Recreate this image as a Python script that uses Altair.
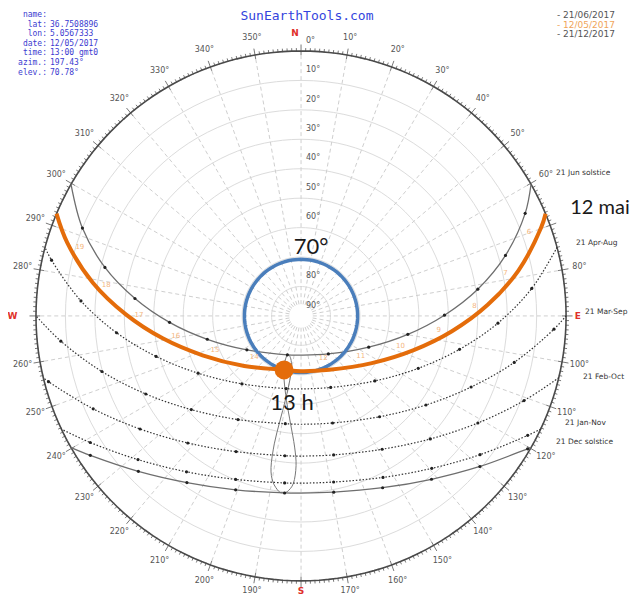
import altair as alt
import pandas as pd

# ---------------- data ----------------
# sun paths: azimuth (deg, from north, clockwise), elevation (deg), local hour
JUN_AZ = [60.2, 65.4, 73.5, 81.4, 89.7, 99.8, 114.8, 144.3, 180.0, 199.3, 237.9, 256.0, 267.2, 276.0, 283.9, 291.9, 299.8]
JUN_EL = [0.0, 6.3, 17.6, 29.3, 41.3, 53.2, 64.7, 74.1, 76.7, 76.0, 68.3, 57.2, 45.3, 33.3, 21.4, 10.0, 0.0]
JUN_HR = ["", "6", "7", "8", "9", "10", "11", "12", "", "13", "14", "15", "16", "17", "18", "19", ""]

MAY_AZ = [67.3, 69.7, 78.2, 86.6, 95.8, 107.1, 123.7, 152.2, 180.0, 197.4, 228.6, 248.2, 260.8, 270.5, 279.0, 287.4, 292.7]
MAY_EL = [0.0, 3.0, 14.6, 26.5, 38.5, 50.2, 61.1, 69.3, 71.2, 70.8, 64.3, 54.0, 42.4, 30.5, 18.5, 6.8, 0.0]
MAY_HR = ["", "6", "7", "8", "9", "10", "11", "12", "", "13", "14", "15", "16", "17", "18", "19", ""]

APR_AZ = [75.0, 83.2, 92.1, 101.9, 114.1, 131.4, 157.5, 180.0, 191.6, 221.1, 240.9, 254.4, 264.8, 273.9, 282.6, 285.0]
APR_EL = [0.0, 11.1, 23.1, 35.0, 46.4, 56.6, 63.7, 65.2, 64.8, 59.4, 50.0, 38.9, 27.1, 15.1, 3.2, 0.0]
APR_HR = ["", "7", "8", "9", "10", "11", "12", "", "13", "14", "15", "16", "17", "18", "19", ""]

MAR_AZ = [90.0, 93.0, 102.3, 112.7, 125.5, 142.1, 163.6, 180.0, 188.3, 211.3, 229.5, 243.3, 254.4, 264.0, 270.0]
MAR_EL = [0.0, 4.0, 15.9, 27.4, 37.9, 46.6, 52.1, 53.2, 53.0, 48.8, 41.0, 31.0, 19.8, 8.0, 0.0]
MAR_HR = ["", "7", "8", "9", "10", "11", "12", "", "13", "14", "15", "16", "17", "18", ""]

FEB_AZ = [103.5, 110.8, 121.2, 133.6, 148.7, 166.8, 180.0, 186.6, 205.6, 221.7, 234.9, 245.9, 255.4, 256.5]
FEB_EL = [0.0, 9.0, 19.8, 29.4, 37.0, 41.5, 42.4, 42.2, 38.9, 32.2, 23.2, 12.7, 1.4, 0.0]
FEB_HR = ["", "8", "9", "10", "11", "12", "", "13", "14", "15", "16", "17", "18", ""]

JAN_AZ = [115.3, 117.8, 127.8, 139.4, 153.1, 168.9, 180.0, 185.6, 201.8, 216.3, 228.6, 239.0, 244.7]
JAN_EL = [0.0, 3.0, 13.1, 21.8, 28.5, 32.5, 33.2, 33.0, 30.2, 24.3, 16.2, 6.5, 0.0]
JAN_HR = ["", "8", "9", "10", "11", "12", "", "13", "14", "15", "16", "17", ""]

DEC_AZ = [119.8, 120.4, 130.1, 141.4, 154.6, 169.5, 180.0, 185.3, 200.6, 214.4, 226.3, 236.5, 240.2]
DEC_EL = [0.0, 0.8, 10.6, 19.0, 25.4, 29.1, 29.8, 29.6, 26.9, 21.4, 13.6, 4.2, 0.0]
DEC_HR = ["", "8", "9", "10", "11", "12", "", "13", "14", "15", "16", "17", ""]

# analemma of 13 h through the year
ANA_AZ = [184.5, 182.6, 181.9, 182.8, 185.5, 189.8, 194.9, 197.8, 199.8, 197.9,
          193.4, 190.7, 189.9, 190.5, 191.4, 191.8, 191.2, 189.6, 187.2, 185.9]
ANA_EL = [30.1, 33.1, 39.1, 45.4, 53.1, 60.9, 67.6, 71.1, 74.5, 76.1,
          75.0, 72.5, 68.3, 61.3, 53.2, 45.6, 37.5, 32.8, 29.9, 29.6]

POINT_AZ = [197.43]
POINT_EL = [70.78]

AZ_LABELS = [10, 20, 30, 40, 50, 60, 80, 100, 110, 120, 130, 140, 150, 160, 170,
             190, 200, 210, 220, 230, 240, 250, 260, 280, 290, 300, 310, 320, 330, 340, 350]
CARDINALS = ["N", "E", "S", "W"]
CARDINAL_AZ = [0, 90, 180, 270]
ELEV_LABELS = [0, 10, 20, 30, 40, 50, 60, 80, 90]
INFO_KEYS = ["name:", "lat:", "lon:", "date:", "time:", "azim.:", "elev.:"]
INFO_VALUES = ["", "36.7508896", "5.0567333", "12/05/2017", "13:00 gmt0", "197.43°", "70.78°"]
LEGEND_DATES = ["21/06/2017", "12/05/2017", "21/12/2017"]
CURVE_LABELS = ["21 Jun  solstice", "21 Apr-Aug", "21 Mar-Sep", "21 Feb-Oct", "21 Jan-Nov", "21 Dec  solstice"]

# ---------------- tables ----------------
def frame(name, az, el, hr):
    return pd.DataFrame({"curve": name, "az": az, "el": el, "hr": hr, "i": list(range(len(az)))})

paths = pd.concat([
    frame("jun", JUN_AZ, JUN_EL, JUN_HR),
    frame("apr", APR_AZ, APR_EL, APR_HR),
    frame("mar", MAR_AZ, MAR_EL, MAR_HR),
    frame("feb", FEB_AZ, FEB_EL, FEB_HR),
    frame("jan", JAN_AZ, JAN_EL, JAN_HR),
    frame("dec", DEC_AZ, DEC_EL, DEC_HR),
], ignore_index=True)
may = frame("may", MAY_AZ, MAY_EL, MAY_HR)
ana = pd.DataFrame({"az": ANA_AZ, "el": ANA_EL, "i": list(range(len(ANA_AZ)))})

xs = alt.Scale(domain=[-99.5, 111.7], nice=False, zero=False)
ys = alt.Scale(domain=[-94.8, 104.6], nice=False, zero=False)
X = alt.X("x:Q", scale=xs, axis=None)
Y = alt.Y("y:Q", scale=ys, axis=None)
POLAR = {"x": "(90 - datum.el) * sin(datum.az * PI / 180)",
         "y": "(90 - datum.el) * cos(datum.az * PI / 180)"}


def pc(df):
    return alt.Chart(df).transform_calculate(**POLAR)


# grid rings
ring_df = pd.DataFrame([{"el": e, "az": a, "i": k}
                        for e in range(10, 90, 10) for k, a in enumerate(range(0, 361, 3))])
rings = pc(ring_df).mark_line(color="#dcdcdc", strokeWidth=1).encode(X, Y, detail="el:N", order="i:Q")

rad_df = pd.DataFrame({"az": list(range(0, 360, 10))})
radials = alt.Chart(rad_df).transform_calculate(
    x="4 * sin(datum.az * PI / 180)", y="4 * cos(datum.az * PI / 180)",
    x2="90 * sin(datum.az * PI / 180)", y2="90 * cos(datum.az * PI / 180)"
).mark_rule(color="#cfcfcf", strokeDash=[4, 3], strokeWidth=1).encode(X, Y, x2="x2:Q", y2="y2:Q")

hor_df = pd.DataFrame({"az": list(range(0, 361, 2))})
hor_df["el"] = 0
hor_df["i"] = range(len(hor_df))
horizon = pc(hor_df).mark_line(color="#4a4a4a", strokeWidth=1.6).encode(X, Y, order="i:Q")

tick_df = pd.DataFrame({"az": list(range(0, 360))})
ticks = alt.Chart(tick_df).transform_calculate(
    rin="datum.az % 10 == 0 ? 88.6 : 89.8",
    rout="datum.az % 10 == 0 ? 92.2 : 91.0"
).transform_calculate(
    x="datum.rin * sin(datum.az * PI / 180)", y="datum.rin * cos(datum.az * PI / 180)",
    x2="datum.rout * sin(datum.az * PI / 180)", y2="datum.rout * cos(datum.az * PI / 180)"
).mark_rule(color="#555555", strokeWidth=0.8).encode(X, Y, x2="x2:Q", y2="y2:Q")

az_labels = alt.Chart(pd.DataFrame({"az": AZ_LABELS})).transform_calculate(
    x="96 * sin(datum.az * PI / 180)",
    y="96 * cos(datum.az * PI / 180) + (cos(datum.az * PI / 180) < -0.95 ? 1.1 : 0)",
    label="datum.az + '°'"
).mark_text(font="DejaVu Sans", fontSize=8, color="#555555").encode(X, Y, text="label:N")

card_layers = []
for letter, az, r, dx in zip(CARDINALS, CARDINAL_AZ, [96, 94, 93.6, 98], [-6, 0, 0, 0]):
    card_layers.append(
        alt.Chart(pd.DataFrame({"az": [az], "t": [letter]})).transform_calculate(
            x=f"{r} * sin(datum.az * PI / 180)", y=f"{r} * cos(datum.az * PI / 180)"
        ).mark_text(font="DejaVu Sans", fontSize=9, fontWeight="bold", color="#e0302a", dx=dx)
        .encode(X, Y, text="t:N"))

el_labels = alt.Chart(pd.DataFrame({"el": ELEV_LABELS})).transform_calculate(
    x="0", y="93.5 - datum.el", label="datum.el + '°'"
).mark_text(font="DejaVu Sans", fontSize=8, color="#555555", align="left", dx=5).encode(X, Y, text="label:N")

# sun paths
analemma = pc(ana).mark_line(color="#777777", strokeWidth=1, interpolate="cardinal-closed").encode(X, Y, order="i:Q")

solid = pc(paths[paths.curve.isin(["jun", "dec"])]).mark_line(
    color="#6e6e6e", strokeWidth=1.3, interpolate="catmull-rom").encode(X, Y, detail="curve:N", order="i:Q")
dotted = pc(paths[paths.curve.isin(["apr", "mar", "feb", "jan"])]).mark_line(
    color="#333333", strokeWidth=1.2, strokeDash=[1.5, 1.8], interpolate="catmull-rom").encode(
    X, Y, detail="curve:N", order="i:Q")
dots = pc(paths[paths.hr != ""]).mark_point(filled=True, color="#222222", size=10, opacity=1).encode(X, Y)

blue = pc(pd.DataFrame({"az": list(range(0, 361, 3)), "el": POINT_EL[0], "i": list(range(121))})).mark_line(
    color="#4a7ebb", strokeWidth=3.5).encode(X, Y, order="i:Q")

may_line = pc(may).mark_line(color="#e46c0a", strokeWidth=4, interpolate="catmull-rom").encode(X, Y, order="i:Q")
may_hours = alt.Chart(may[(may.hr != "") & (may.hr != "13")]).transform_calculate(
    x="(85.5 - datum.el) * sin(datum.az * PI / 180)", y="(85.5 - datum.el) * cos(datum.az * PI / 180)"
).mark_text(font="DejaVu Sans", fontSize=7, color="#f4b680").encode(X, Y, text="hr:N")
sun_pt = pc(pd.DataFrame({"az": POINT_AZ, "el": POINT_EL})).mark_point(
    filled=True, color="#e46c0a", size=360, opacity=1).encode(X, Y)

# annotations (pixel positions inside the view)
one = pd.DataFrame({"d": [0]})


def txt(text, x, y, **kw):
    return alt.Chart(one).mark_text(**kw).encode(x=alt.value(x), y=alt.value(y), text=alt.value(text))


ann = [
    txt("SunEarthTools.com", 299, 8, font="DejaVu Sans Mono", fontSize=13, color="#3344dd"),
    txt("\n".join(INFO_KEYS), 39, 3, font="DejaVu Sans Mono", fontSize=8, color="#3b3bd0",
        align="right", baseline="top", lineBreak="\n", lineHeight=9.6),
    txt("\n".join(INFO_VALUES), 42, 3, font="DejaVu Sans Mono", fontSize=8, color="#3b3bd0",
        align="left", baseline="top", lineBreak="\n", lineHeight=9.6),
]
for k, (d, col) in enumerate(zip(LEGEND_DATES, ["#555555", "#f0a55a", "#555555"])):
    ann.append(txt("- " + d, 549, 7 + 9.5 * k, font="DejaVu Sans", fontSize=9, color=col, align="left"))
for label, (x, y) in zip(CURVE_LABELS, [(548, 165), (568, 235), (577, 304), (575, 369), (557, 415), (548, 434)]):
    ann.append(txt(label, x, y, font="DejaVu Sans", fontSize=7.5, color="#333333", align="left"))
ann += [
    txt("12 mai", 592, 200, font="Lato", fontSize=20, color="#1a1a1a"),
    txt("70°", 303, 239, font="Lato", fontSize=22, color="#1a1a1a"),
    txt("13 h", 284, 395, font="Lato", fontSize=22, color="#1a1a1a"),
]

layers = [rings, radials, ticks, horizon, az_labels, *card_layers, el_labels,
          analemma, solid, dotted, dots, blue, may_hours, may_line, sun_pt, *ann]

chart = alt.layer(*layers).properties(
    width=622, height=587, padding=0, autosize=alt.AutoSizeParams(type="none")
).configure_view(stroke=None)

chart.save("out.html", embed_options={"renderer": "svg", "actions": False})
